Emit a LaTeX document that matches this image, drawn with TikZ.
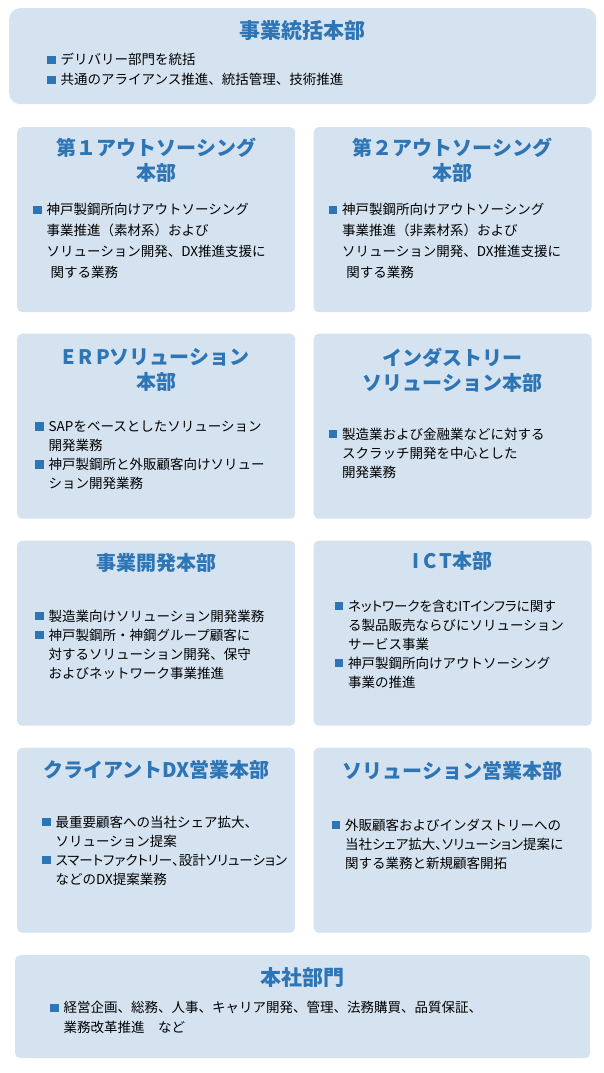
\documentclass[tikz,border=0pt]{standalone}
\usepackage{fontspec}
\usepackage{xcolor}
\usepackage{tikz}
\usetikzlibrary{positioning}
\setmainfont{Noto Sans CJK JP}
\newfontfamily\narrowjp{Noto Sans CJK JP}[RawFeature={+palt}]
\definecolor{boxfill}{HTML}{D5E3F1}
\definecolor{titleblue}{HTML}{2E75B6}
\definecolor{markblue}{HTML}{2E75B6}
\newcommand{\bsq}{\makebox[1em][l]{\textcolor{markblue}{\rule[0.05em]{0.62em}{0.62em}}}}
\newcommand{\indnt}{\hspace*{1em}}

\begin{document}
\begin{tikzpicture}[x=1pt, y=-1pt]
    \tikzstyle{unitbox} = [rectangle, fill=boxfill, rounded corners=5pt, anchor=north west, inner sep=0pt, minimum width=278pt, minimum height=185pt]
    \tikzstyle{headbox} = [unitbox, rounded corners=11pt]
    \tikzstyle{unittitle} = [font=\bfseries\fontsize{20}{25}\selectfont, text=titleblue, align=center, inner sep=0pt]
    \tikzstyle{bigtitle} = [unittitle, font=\bfseries\fontsize{21}{25}\selectfont]
    \tikzstyle{unittext} = [font=\fontsize{13.5}{19}\selectfont, align=left, inner sep=0pt, anchor=north west]

    \path [fill=white] (0,0) rectangle (604,1073);
    \useasboundingbox (0,0) rectangle (604,1073);

    % boxes
    \node [headbox, minimum width=587pt, minimum height=96pt] (head) at (9,8) {};
    \node [unitbox] (out1) at (17,127) {};
    \node [unitbox] (out2) at (313.5,127) {};
    \node [unitbox] (erp) at (17,333.5) {};
    \node [unitbox] (ind) at (313.5,333.5) {};
    \node [unitbox] (dev) at (17,540.5) {};
    \node [unitbox] (ict) at (313.5,540.5) {};
    \node [unitbox] (cdx) at (17,747.5) {};
    \node [unitbox] (sol) at (313.5,747.5) {};
    \node [unitbox, minimum width=575pt, minimum height=103pt] (corp) at (15,955) {};

    % titles
    \node [bigtitle, below=12.5pt of head.north] (headt) {事業統括本部};
    \node [unittitle, below=11pt of out1.north] (out1t) {第１アウトソーシング\\本部};
    \node [unittitle, below=11pt of out2.north] (out2t) {第２アウトソーシング\\本部};
    \node [unittitle, below=15pt of erp.north] (erpt) {E\,R\,Pソリューション\\本部};
    \node [unittitle, below=14.5pt of ind.north] (indt) {インダストリー\\ソリューション本部};
    \node [unittitle, below=13pt of dev.north] (devt) {事業開発本部};
    \node [unittitle, below=10.5pt of ict.north] (ictt) {I\,C\,T本部};
    \node [unittitle, below=12.5pt of cdx.north] (cdxt) {クライアントDX営業本部};
    \node [unittitle, below=13.5pt of sol.north] (solt) {ソリューション営業本部};
    \node [bigtitle, below=12.5pt of corp.north] (corpt) {本社部門};

    % bullet texts
    \node [unittext, font=\fontsize{13.5}{20}\selectfont, below right=45pt and 38pt of head.north west] (headx) {\bsq デリバリー部門を統括\\
        \bsq 共通のアライアンス推進、統括管理、技術推進};
    \node [unittext, font=\fontsize{13.5}{21}\selectfont, below right=76pt and 16pt of out1.north west] (out1x) {\bsq 神戸製鋼所向けアウトソーシング\\
        \indnt 事業推進（素材系）および\\
        \indnt ソリューション開発、DX推進支援に\\
        \indnt\hspace*{.3em}関する業務};
    \node [unittext, font=\fontsize{13.5}{21}\selectfont, below right=76pt and 15pt of out2.north west] (out2x) {\bsq 神戸製鋼所向けアウトソーシング\\
        \indnt 事業推進（非素材系）および\\
        \indnt ソリューション開発、DX推進支援に\\
        \indnt\hspace*{.3em}関する業務};
    \node [unittext, below right=87pt and 18pt of erp.north west] (erpx) {\bsq SAPをベースとしたソリューション\\
        \indnt 開発業務\\
        \bsq 神戸製鋼所と外販顧客向けソリュー\\
        \indnt ション開発業務};
    \node [unittext, below right=94pt and 15pt of ind.north west] (indx) {\bsq 製造業および金融業などに対する\\
        \indnt スクラッチ開発を中心とした\\
        \indnt 開発業務};
    \node [unittext, below right=69pt and 18pt of dev.north west] (devx) {\bsq 製造業向けソリューション開発業務\\
        \bsq 神戸製鋼所・神鋼グループ顧客に\\
        \indnt 対するソリューション開発、保守\\
        \indnt およびネットワーク事業推進};
    \node [unittext, below right=59pt and 21pt of ict.north west] (ictx) {\bsq{\narrowjp ネットワークを含むITインフラに関す}\\
        \indnt る製品販売ならびにソリューション\\
        \indnt サービス事業\\
        \bsq 神戸製鋼所向けアウトソーシング\\
        \indnt 事業の推進};
    \node [unittext, below right=68pt and 25pt of cdx.north west] (cdxx) {\bsq 最重要顧客への当社シェア拡大、\\
        \indnt ソリューション提案\\
        \bsq{\narrowjp スマートファクトリー、設計ソリューション}\\
        \indnt などのDX提案業務};
    \node [unittext, below right=71pt and 18pt of sol.north west] (solx) {\bsq 外販顧客およびインダストリーへの\\
        \indnt{\narrowjp 当社シェア拡大、ソリューション提案に}\\
        \indnt 関する業務と新規顧客開拓};
    \node [unittext, font=\fontsize{13.5}{20}\selectfont, below right=46pt and 35pt of corp.north west] (corpx) {\bsq 経営企画、総務、人事、キャリア開発、管理、法務購買、品質保証、\\
        \indnt 業務改革推進　など};
\end{tikzpicture}
\end{document}
